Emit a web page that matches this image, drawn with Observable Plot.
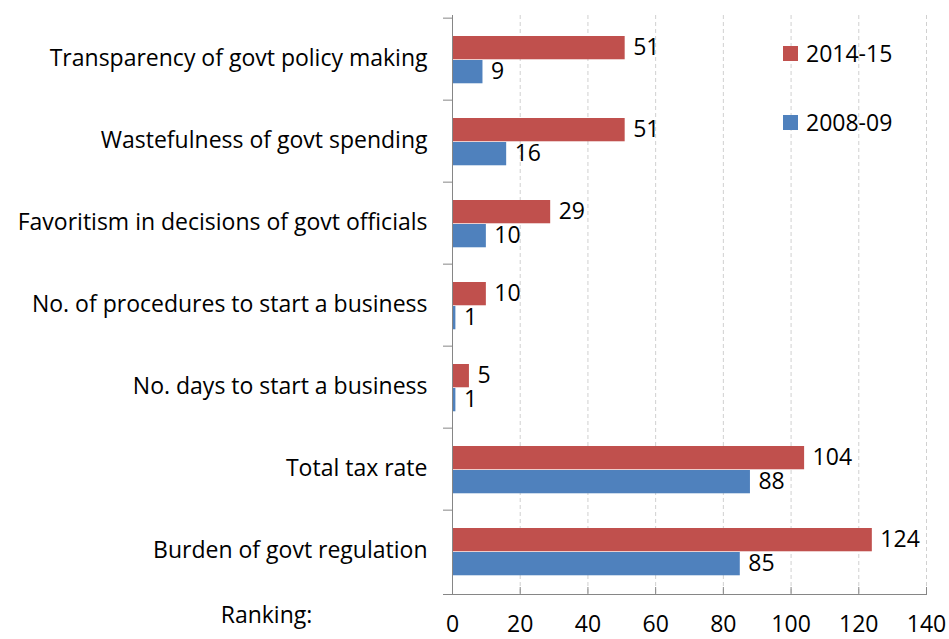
<!DOCTYPE html>
<html>
<head>
<meta charset="utf-8">
<script src="https://cdn.jsdelivr.net/npm/d3@7"></script>
<script src="https://cdn.jsdelivr.net/npm/@observablehq/plot@0.6"></script>
<style>
  body { margin: 0; background: #fff; font-family: "Open Sans", Lato, sans-serif; }
  #wrap { position: relative; width: 949px; height: 639px; }
  .leg { position: absolute; display: flex; align-items: center; color: #000; }
  .sw { width: 15px; height: 15px; margin-right: 8px; }
</style>
</head>
<body>
<div id="wrap"></div>
<script>
const categories = [
  "Transparency of govt policy making",
  "Wastefulness of govt spending",
  "Favoritism in decisions of govt officials",
  "No. of procedures to start a business",
  "No. days to start a business",
  "Total tax rate",
  "Burden of govt regulation"
];
const series = ["2014-15", "2008-09"];
const values2014 = [51, 51, 29, 10, 5, 104, 124];
const values2008 = [9, 16, 10, 1, 1, 88, 85];
const xTicks = [0, 20, 40, 60, 80, 100, 120, 140];
const colors = ["#C0504D", "#4F81BD"];

const W = 949, H = 639, mL = 452, mR = 23, mT = 15, mB = 45;
const bw = (H - mT - mB) / categories.length;

const d2014 = categories.map((c, i) => ({cat: c, v: values2014[i]}));
const d2008 = categories.map((c, i) => ({cat: c, v: values2008[i]}));
const axisGray = "#868686";
const FS = 23;

const chart = Plot.plot({
  width: W, height: H,
  marginLeft: mL, marginRight: mR, marginTop: mT, marginBottom: mB,
  style: {fontFamily: "'Open Sans', Lato, sans-serif", color: "#000", background: "#fff"},
  x: {domain: [0, 140], axis: null},
  y: {domain: categories, padding: 0, axis: null},
  marks: [
    Plot.gridX(xTicks, {stroke: "#d0d0d0", strokeOpacity: 1, strokeDasharray: "4,3"}),
    Plot.barX(d2014, {y: "cat", x: "v", fill: colors[0], insetTop: 18, insetBottom: bw - 42}),
    Plot.barX(d2008, {y: "cat", x: "v", fill: colors[1], insetTop: 42, insetBottom: bw - 66}),
    Plot.text(d2014, {y: "cat", x: "v", text: d => String(d.v), dx: 8, dy: -12, textAnchor: "start", fontSize: FS, fill: "#000"}),
    Plot.text(d2008, {y: "cat", x: "v", text: d => String(d.v), dx: 8, dy: 12, textAnchor: "start", fontSize: FS, fill: "#000"}),
    Plot.frame({anchor: "left", stroke: axisGray}),
    Plot.frame({anchor: "bottom", stroke: axisGray, insetLeft: -9}),
    Plot.axisY(categories, {tickSize: 9, dy: -bw / 2, tickFormat: () => "", color: axisGray, label: null}),
    Plot.axisY(categories, {tickSize: 0, tickPadding: 25, dy: -1, fontSize: FS, color: "#000", label: null}),
    Plot.axisX(xTicks, {tickSize: 7, dy: -7, tickFormat: () => "", color: axisGray, label: null}),
    Plot.axisX(xTicks, {tickSize: 0, tickPadding: 21, fontSize: FS, color: "#000", label: null}),
    Plot.text(["Ranking:"], {frameAnchor: "bottom-left", dx: -186, dy: 28, fontSize: FS, textAnchor: "middle", fill: "#000"})
  ]
});

const wrap = document.getElementById("wrap");
wrap.appendChild(chart);

const legTops = [37, 106];
series.forEach((s, i) => {
  const el = document.createElement("div");
  el.className = "leg";
  el.style.left = "783px";
  el.style.top = legTops[i] + "px";
  el.style.fontSize = FS + "px";
  el.innerHTML = `<div class="sw" style="background:${colors[i]}"></div><span>${s}</span>`;
  wrap.appendChild(el);
});
</script>
</body>
</html>
